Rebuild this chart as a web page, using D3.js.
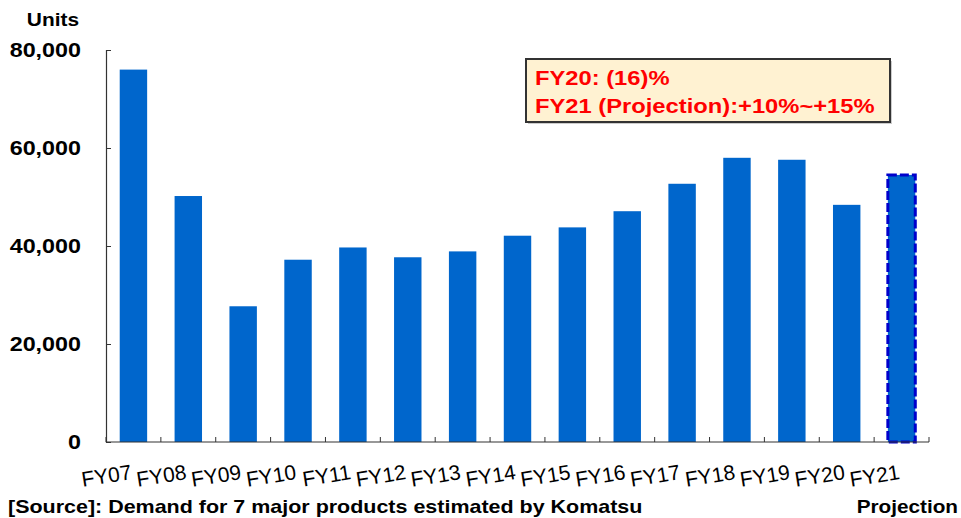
<!DOCTYPE html>
<html>
<head>
<meta charset="utf-8">
<script src="https://cdn.jsdelivr.net/npm/d3@7"></script>
<style>
  html, body { margin: 0; padding: 0; background: #fff; }
  svg { display: block; font-family: "Liberation Sans", Arial, sans-serif; }
</style>
</head>
<body>
<svg id="chart" width="961" height="518"></svg>
<script>
// Fiscal years and estimated demand (units) for 7 major products
const years = ["FY07","FY08","FY09","FY10","FY11","FY12","FY13","FY14","FY15","FY16","FY17","FY18","FY19","FY20","FY21"];
const units = [76000, 50200, 27700, 37200, 39700, 37700, 38900, 42100, 43800, 47100, 52700, 58000, 57600, 48400, 54500];
const projected = ["FY21"];
const yTicks = [0, 20000, 40000, 60000, 80000];
const noteLines = ["FY20: (16)%", "FY21 (Projection):+10%~+15%"];

const svg = d3.select("#chart");
const margin = { left: 106, right: 32, top: 50, bottom: 76 };
const W = 961, H = 518;

// widen glyphs horizontally by a factor (the typeface here runs wide)
function widen(sel, factor) {
  sel.each(function () {
    const len = this.getComputedTextLength();
    d3.select(this)
      .attr("textLength", len * factor)
      .attr("lengthAdjust", "spacingAndGlyphs");
  });
  return sel;
}

const x = d3.scaleBand()
  .domain(years)
  .range([margin.left, W - margin.right])
  .paddingInner(0.5)
  .paddingOuter(0.25);

const y = d3.scaleLinear()
  .domain([0, 80000])
  .range([H - margin.bottom, margin.top]);

// bars
svg.append("g").selectAll("rect")
  .data(years.map((d, i) => ({ year: d, value: units[i] })))
  .join("rect")
  .attr("x", d => x(d.year))
  .attr("y", d => y(d.value))
  .attr("width", x.bandwidth())
  .attr("height", d => y(0) - y(d.value))
  .attr("fill", "#0066cc")
  .attr("stroke", d => projected.includes(d.year) ? "#0000cc" : "none")
  .attr("stroke-width", 3)
  .attr("stroke-dasharray", "9 3");

// y axis
const fmt = d3.format(",");
const yAxis = svg.append("g")
  .attr("transform", `translate(${margin.left},0)`)
  .call(d3.axisRight(y).tickValues(yTicks).tickSize(5).tickFormat(""));
yAxis.select(".domain").attr("stroke", "#333").attr("stroke-width", 1.2);
yAxis.selectAll(".tick line").attr("stroke", "#333");

widen(svg.append("g").selectAll("text")
  .data(yTicks)
  .join("text")
  .attr("x", 81)
  .attr("y", d => y(d) + 7)
  .attr("text-anchor", "end")
  .attr("font-size", 21)
  .attr("font-weight", "bold")
  .attr("fill", "#000")
  .text(d => fmt(d)), 1.11);

// x axis with boundary ticks pointing up
const x0 = margin.left, x1 = W - margin.right;
const xa = svg.append("g");
xa.append("line")
  .attr("x1", x0).attr("x2", x1)
  .attr("y1", y(0)).attr("y2", y(0))
  .attr("stroke", "#333").attr("stroke-width", 1.2);
xa.selectAll("line.t")
  .data(d3.range(years.length + 1))
  .join("line")
  .attr("class", "t")
  .attr("x1", i => x0 + (x1 - x0) * i / years.length)
  .attr("x2", i => x0 + (x1 - x0) * i / years.length)
  .attr("y1", y(0)).attr("y2", y(0) - 5)
  .attr("stroke", "#333");

// rotated category labels
svg.append("g").selectAll("text")
  .data(years)
  .join("text")
  .attr("text-anchor", "end")
  .attr("font-size", 21)
  .attr("fill", "#000")
  .attr("transform", d => `translate(${x(d) + x.bandwidth() / 2 - 1},${y(0) + 37}) rotate(-9)`)
  .text(d => d);

// titles and notes
widen(svg.append("text")
  .attr("x", 79).attr("y", 26)
  .attr("text-anchor", "end")
  .attr("font-size", 18).attr("font-weight", "bold")
  .text("Units"), 1.16);

widen(svg.append("text")
  .attr("x", 8).attr("y", 513)
  .attr("font-size", 18.5).attr("font-weight", "bold")
  .text("[Source]: Demand for 7 major products estimated by Komatsu"), 1.16);

widen(svg.append("text")
  .attr("x", 958).attr("y", 513)
  .attr("text-anchor", "end")
  .attr("font-size", 18.5).attr("font-weight", "bold")
  .text("Projection"), 1.12);

// annotation box
const box = svg.append("g").attr("transform", "translate(526,59)");
box.append("rect")
  .attr("x", 2).attr("y", 2)
  .attr("width", 364).attr("height", 63)
  .attr("fill", "#999").attr("opacity", 0.5);
box.append("rect")
  .attr("width", 364).attr("height", 63)
  .attr("fill", "#fff2d2")
  .attr("stroke", "#333").attr("stroke-width", 2);
widen(box.selectAll("text.note")
  .data(noteLines)
  .join("text")
  .attr("class", "note")
  .attr("x", 9)
  .attr("y", (d, i) => 26 + i * 28)
  .attr("font-size", 21).attr("font-weight", "bold")
  .attr("fill", "#ff0000")
  .text(d => d), 1.13);
</script>
</body>
</html>
